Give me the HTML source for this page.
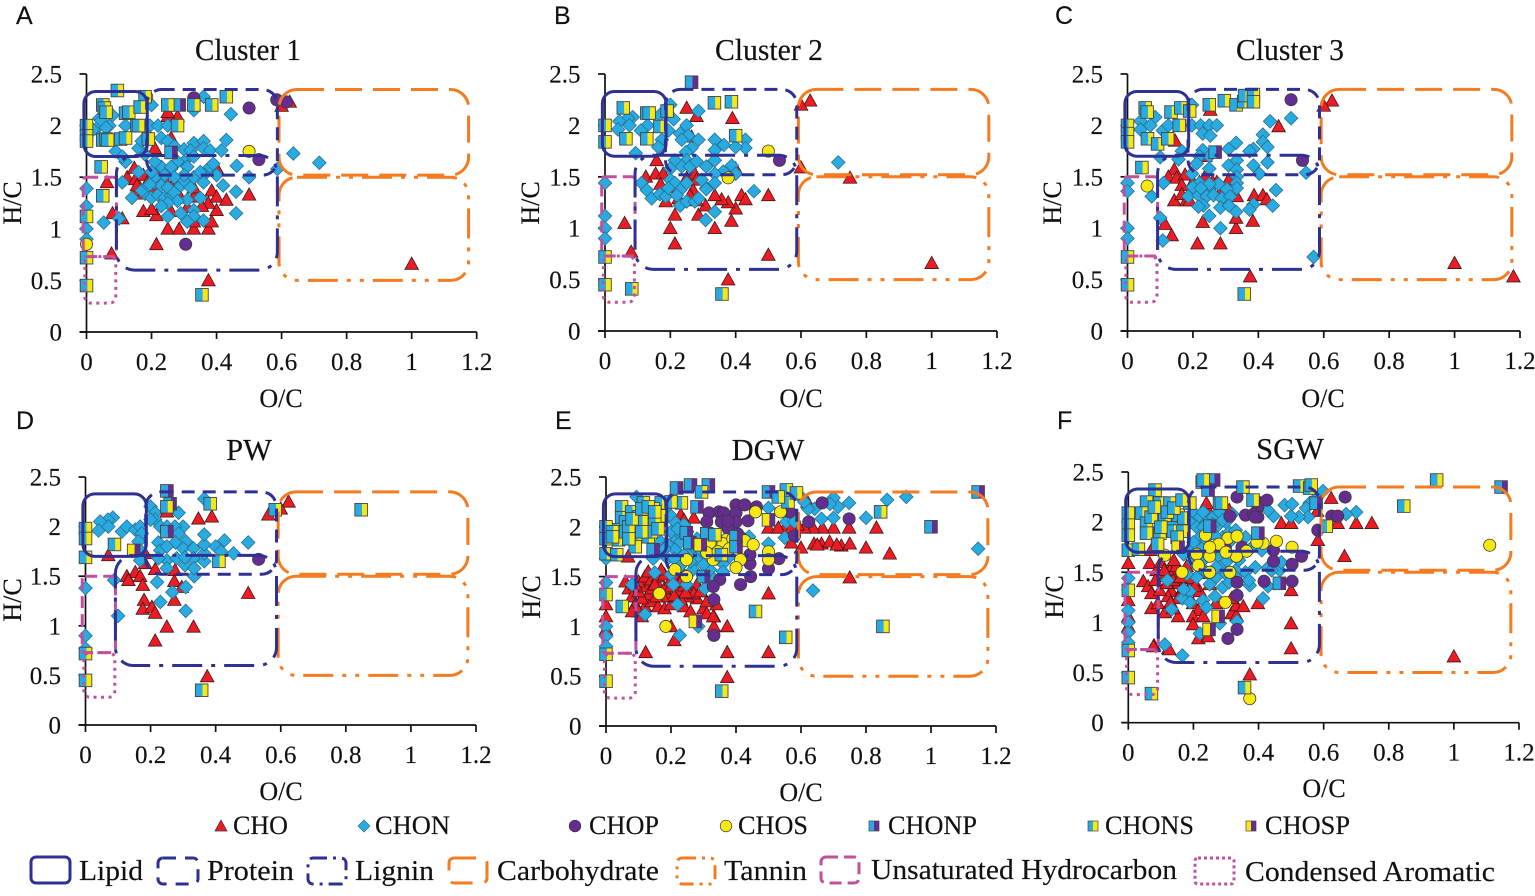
<!DOCTYPE html>
<html lang="en">
<head>
<meta charset="utf-8">
<title>Van Krevelen diagrams</title>
<style>
html,body{margin:0;padding:0;background:#fff;width:1535px;height:896px;overflow:hidden}
svg{display:block;filter:blur(.35px)}
text{font-family:"Liberation Serif",serif;fill:#111;stroke:#111;stroke-width:.15px}
.letter{font-family:"Liberation Sans",sans-serif;font-size:25px}
.title{font-size:30.5px;text-anchor:middle}
.axlab{font-size:26px;text-anchor:middle}
.tick{font-size:25px}
.lg1{font-size:26.5px}
.lg2{font-size:29px}
</style>
</head>
<body>
<svg id="chart" xmlns="http://www.w3.org/2000/svg" width="1535" height="896" viewBox="0 0 1535 896">
  <g>
    <text class="letter" x="16" y="24">A</text>
    <text class="letter" x="554" y="24">B</text>
    <text class="letter" x="1055" y="24">C</text>
    <text class="letter" x="16" y="429">D</text>
    <text class="letter" x="555" y="429">E</text>
    <text class="letter" x="1057" y="429">F</text>
  </g>
  <g>
    <text class="title" x="248" y="60" textLength="106" lengthAdjust="spacingAndGlyphs">Cluster 1</text>
    <text class="title" x="769" y="60" textLength="108" lengthAdjust="spacingAndGlyphs">Cluster 2</text>
    <text class="title" x="1290" y="60" textLength="108" lengthAdjust="spacingAndGlyphs">Cluster 3</text>
    <text class="title" x="249" y="460">PW</text>
    <text class="title" x="768" y="460">DGW</text>
    <text class="title" x="1290" y="459">SGW</text>
  </g>
  <g>
    <text class="axlab" x="281" y="407">O/C</text>
    <text class="axlab" x="801" y="407">O/C</text>
    <text class="axlab" x="1323" y="407">O/C</text>
    <text class="axlab" x="281" y="800">O/C</text>
    <text class="axlab" x="801" y="801">O/C</text>
    <text class="axlab" x="1324" y="797">O/C</text>
    <text class="axlab" transform="translate(21,203) rotate(-90)">H/C</text>
    <text class="axlab" transform="translate(539,203) rotate(-90)">H/C</text>
    <text class="axlab" transform="translate(1061,203) rotate(-90)">H/C</text>
    <text class="axlab" transform="translate(21,600) rotate(-90)">H/C</text>
    <text class="axlab" transform="translate(540,597) rotate(-90)">H/C</text>
    <text class="axlab" transform="translate(1063,597) rotate(-90)">H/C</text>
  </g>
  <g id="panels"></g>
  <g id="legend-compound">
    <g><polygon points="221,820 227,831 215,831" fill="#ED1C24" stroke="#333" stroke-width=".7"/><text class="lg1" x="233" y="834" textLength="55" lengthAdjust="spacingAndGlyphs">CHO</text></g>
    <g><polygon points="364,820 370,826 364,832 358,826" fill="#29ABE2" stroke="#2a6f8f" stroke-width=".7"/><text class="lg1" x="375" y="834" textLength="75" lengthAdjust="spacingAndGlyphs">CHON</text></g>
    <g><circle cx="575" cy="826" r="5.8" fill="#662D91" stroke="#333" stroke-width=".7"/><text class="lg1" x="589" y="834" textLength="70" lengthAdjust="spacingAndGlyphs">CHOP</text></g>
    <g><circle cx="726" cy="826" r="5.8" fill="#F7E812" stroke="#333" stroke-width=".7"/><text class="lg1" x="738" y="834" textLength="70" lengthAdjust="spacingAndGlyphs">CHOS</text></g>
    <g><rect x="869" y="821" width="5" height="10" fill="#29ABE2"/><rect x="874" y="821" width="5" height="10" fill="#662D91"/><rect x="869" y="821" width="10" height="10" fill="none" stroke="#444" stroke-width=".7"/><text class="lg1" x="888" y="834" textLength="89" lengthAdjust="spacingAndGlyphs">CHONP</text></g>
    <g><rect x="1088" y="821" width="5" height="10" fill="#29ABE2"/><rect x="1093" y="821" width="5" height="10" fill="#F7E812"/><rect x="1088" y="821" width="10" height="10" fill="none" stroke="#444" stroke-width=".7"/><text class="lg1" x="1105" y="834" textLength="89" lengthAdjust="spacingAndGlyphs">CHONS</text></g>
    <g><rect x="1246" y="821" width="5" height="10" fill="#F7E812"/><rect x="1251" y="821" width="5" height="10" fill="#662D91"/><rect x="1246" y="821" width="10" height="10" fill="none" stroke="#444" stroke-width=".7"/><text class="lg1" x="1265" y="834" textLength="85" lengthAdjust="spacingAndGlyphs">CHOSP</text></g>
  </g>
  <g id="legend-region" fill="none">
    <g><rect x="31" y="857" width="39" height="26" rx="5" stroke="#2E3192" stroke-width="3"/><text class="lg2" x="79" y="880" textLength="64" lengthAdjust="spacingAndGlyphs">Lipid</text></g>
    <g><rect x="158" y="858" width="40" height="26" rx="5" stroke="#2E3192" stroke-width="3" stroke-dasharray="13 9"/><text class="lg2" x="207" y="880" textLength="87" lengthAdjust="spacingAndGlyphs">Protein</text></g>
    <g><rect x="308" y="858" width="38" height="26" rx="5" stroke="#2E3192" stroke-width="3" stroke-dasharray="14 6 3 6"/><text class="lg2" x="355" y="880" textLength="79" lengthAdjust="spacingAndGlyphs">Lignin</text></g>
    <g><rect x="449" y="858" width="38" height="25" rx="5" stroke="#F47B20" stroke-width="3" stroke-dasharray="22 12"/><text class="lg2" x="497" y="880" textLength="162" lengthAdjust="spacingAndGlyphs">Carbohydrate</text></g>
    <g><rect x="677" y="858" width="38" height="26" rx="5" stroke="#F47B20" stroke-width="3" stroke-dasharray="14 6 3 6 3 6"/><text class="lg2" x="724" y="880" textLength="83" lengthAdjust="spacingAndGlyphs">Tannin</text></g>
    <g><rect x="821" y="857" width="38" height="26" rx="5" stroke="#C0509F" stroke-width="3" stroke-dasharray="12 6"/><text class="lg2" x="871" y="879" textLength="306" lengthAdjust="spacingAndGlyphs">Unsaturated Hydrocarbon</text></g>
    <g><rect x="1195" y="858" width="39" height="26" rx="3" stroke="#C0509F" stroke-width="3" stroke-dasharray="3 3"/><text class="lg2" x="1245" y="881" textLength="250" lengthAdjust="spacingAndGlyphs">Condensed Aromatic</text></g>
  </g>
</svg>
<script>
const xTicks=[0,0.2,0.4,0.6,0.8,1,1.2];
const xTickLabels=["0","0.2","0.4","0.6","0.8","1","1.2"];
const yTicks=[0,0.5,1,1.5,2,2.5];
const yTickLabels=["0","0.5","1","1.5","2","2.5"];

// Panel A (Cluster 1): [O/C, H/C]
const A_CHO=[[1,.66],[.375,.5],[.215,.85],[.25,1],[.285,1],[.33,1],[.375,1],[.33,1.07],[.385,1.07],[.4,1.18],[.375,1.25],[.33,1.31],[.385,1.37],[.4,1.31],[.43,1.28],[.5,1.33],[.31,1.21],[.215,1.13],[.175,1.17],[.2,1.19],[.26,1.17],[.11,1.1],[.08,1.15],[.077,.76],[.063,1.45],[.125,1.5],[.147,1.59],[.15,1.48],[.175,1.52],[.21,1.78],[.25,2.09],[.28,2.09],[.25,2.13],[.26,1.88],[.6,2.19],[.625,2.23],[.4,1.59],[.155,1.37],[.175,1.34],[.155,1.42],[.185,1.44],[.215,1.54],[.245,1.45],[.265,1.43],[.285,1.45],[.33,1.4],[.21,1.4],[.24,1.28],[.29,1.3],[.355,1.22]];
const A_CHON=[[0,1.39],[0,1.22],[0,1],[0,.9],[.053,1.06],[.1,1.1],[.04,2.07],[.03,1.97],[.07,2],[.045,2.05],[.02,1.96],[.12,2],[.08,2.1],[.06,1.98],[.09,1.75],[.12,1.65],[.11,1.7],[.195,2],[.22,2],[.25,2],[.2,2.2],[.33,2.15],[.36,2.28],[.16,1.78],[.18,1.72],[.17,1.85],[.19,1.9],[.23,1.88],[.25,1.85],[.27,1.8],[.3,1.77],[.33,1.83],[.32,1.76],[.3,1.65],[.31,1.6],[.33,1.7],[.28,1.65],[.26,1.58],[.23,1.6],[.21,1.65],[.16,1.55],[.11,1.45],[.14,1.3],[.18,1.34],[.17,1.37],[.2,1.3],[.22,1.33],[.24,1.3],[.26,1.32],[.19,1.42],[.21,1.45],[.23,1.42],[.25,1.4],[.27,1.35],[.29,1.42],[.3,1.47],[.32,1.4],[.33,1.5],[.36,1.45],[.35,1.3],[.31,1.28],[.28,1.27],[.25,1.25],[.23,1.22],[.25,1.12],[.29,1.15],[.33,1.18],[.33,1.12],[.31,1.07],[.36,1.08],[.4,1.52],[.37,1.55],[.42,1.42],[.46,1.36],[.46,1.15],[.38,1.6],[.35,1.55],[.3,1.52],[.27,1.5],[.24,1.52],[.21,1.5],[.2,1.55],[.26,1.6],[.36,1.85],[.36,1.78],[.636,1.73],[.716,1.64],[.587,1.58],[.5,1.5],[.462,1.61],[.444,2.11],[.43,1.86],[.38,1.76],[.415,1.76],[.39,1.63],[.195,1.43]];
const A_CHOP=[[.5,2.17],[.585,2.25],[.615,2.23],[.53,1.67],[.305,.85],[.33,2.27]];
const A_CHOS=[[.5,1.75],[0,.85],[.185,2.28]];
const A_CHONP=[[.26,1.74],[.285,2.2]];
const A_CHONS=[[.095,2.34],[.18,2.28],[.05,2.2],[.055,2.17],[.06,2.13],[.12,2.12],[.13,2.13],[.165,2.18],[.155,2],[.16,2],[0,2],[0,1.9],[0,1.85],[.05,1.86],[.06,1.87],[.065,1.86],[.105,1.87],[.12,1.88],[.19,1.87],[.25,2.2],[.28,2],[.33,2.2],[.385,2.2],[.43,2.28],[.045,1.6],[.05,1.32],[0,1.12],[0,.72],[0,.45],[.355,.36]];
const A_CHOSP=[];

// Panel B (Cluster 2)
const B_CHO=[[.628,2.24],[.6,2.2],[.25,2.17],[.28,2.09],[.39,2.07],[.6,1.59],[.75,1.49],[1,.66],[.377,.5],[.5,.74],[.214,.85],[.2,1],[.06,1.05],[.08,.77],[.336,1],[.387,1.07],[.214,1.13],[.286,1.13],[.308,1.22],[.4,1.19],[.377,1.25],[.357,1.28],[.336,1.32],[.418,1.32],[.43,1.28],[.5,1.32],[.125,1.5],[.155,1.53],[.178,1.53],[.17,1.43],[.186,1.26],[.205,1.4],[.225,1.29],[.25,1.49],[.275,1.53],[.28,1.47],[.27,1.37],[.26,1.32],[.28,1.27],[.4,1.58],[.265,1.89],[.158,1.66]];
const B_CHON=[[.714,1.64],[0,1.44],[0,1.12],[0,1],[0,.9],[.456,1.36],[.336,1.16],[.308,1.08],[.43,1.86],[.43,1.78],[.4,1.79],[.364,1.81],[.336,1.86],[.336,1.76],[.286,2.14],[.388,1.61],[.4,1.53],[.362,1.55],[.336,1.53],[.336,1.44],[.31,1.39],[.2,2.2],[.21,2.06],[.085,2.08],[.07,2.07],[.075,2],[.044,2.04],[.04,1.96],[.13,2],[.11,1.95],[.094,1.73],[.168,2.1],[.25,2],[.174,1.86],[.163,1.79],[.194,1.95],[.23,1.92],[.255,1.9],[.235,1.86],[.286,1.86],[.265,1.78],[.248,1.74],[.25,1.66],[.214,1.66],[.235,1.6],[.2,1.58],[.26,1.6],[.31,1.6],[.336,1.66],[.28,1.65],[.112,1.44],[.128,1.37],[.143,1.29],[.168,1.33],[.186,1.31],[.2,1.47],[.214,1.44],[.23,1.37],[.194,1.39],[.23,1.22],[.25,1.26],[.275,1.26],[.286,1.29],[.31,1.38],[.296,1.47],[.25,1.44],[.22,1.32]];
const B_CHOP=[[.534,1.66]];
const B_CHOS=[[.5,1.75],[.377,1.49]];
const B_CHONP=[[.265,2.42]];
const B_CHONS=[[.056,2.17],[.128,2.12],[.135,2.12],[.19,2.14],[.168,1.99],[.064,1.87],[.128,1.87],[0,2],[0,1.84],[.335,2.22],[.387,2.23],[.4,1.9],[0,.72],[0,.45],[.082,.41],[.358,.36]];
const B_CHOSP=[];

// Panel C (Cluster 3)
const C_CHO=[[.625,2.24],[.6,2.19],[.462,1.99],[.146,1.85],[.143,1.57],[.125,1.5],[.15,1.49],[.176,1.52],[.166,1.42],[.143,1.27],[.18,1.27],[.115,1.04],[.135,.93],[.214,.85],[.284,.85],[.23,1.06],[.332,1],[.383,1.07],[.332,1.1],[.387,1.32],[.414,1.32],[.426,1.28],[.375,.53],[.238,1.51],[.273,1.45],[.309,1.47],[.334,1.31],[.253,2.15],[1,.66],[1.18,.53],[.238,1.7],[.26,1.45],[.22,1.45],[.29,1.39],[.166,1.33],[.19,1.27],[.2,1.45]];
const C_CHON=[[0,1.44],[0,1.36],[0,1],[0,.9],[.074,1.31],[.1,1.1],[.108,.88],[.11,1.44],[.569,.72],[.546,1.54],[.5,2.07],[.436,2.04],[.414,1.91],[.414,1.84],[.428,1.79],[.385,1.77],[.373,1.75],[.428,1.64],[.385,1.61],[.403,1.53],[.332,1.83],[.309,1.77],[.309,1.61],[.334,1.66],[.334,1.57],[.334,1.5],[.334,1.44],[.334,1.39],[.454,1.37],[.444,1.22],[.385,1.23],[.373,1.18],[.332,1.16],[.25,1.12],[.284,1],[.085,2.08],[.04,2.04],[.04,1.96],[.07,2],[.108,1.95],[.125,2],[.197,2.2],[.197,2],[.224,2],[.25,2],[.273,2],[.23,1.92],[.253,1.9],[.1,1.69],[.166,1.75],[.156,1.67],[.23,1.76],[.22,1.7],[.212,1.63],[.197,1.53],[.25,1.7],[.25,1.58],[.2,1.4],[.22,1.44],[.25,1.38],[.278,1.43],[.304,1.38],[.186,1.31],[.217,1.32],[.242,1.31],[.263,1.32],[.288,1.29],[.314,1.31],[.232,1.22],[.217,1.21],[.284,1.2],[.31,1.22],[.25,1.43],[.2,1.4],[.224,1.39]];
const C_CHOP=[[.5,2.25],[.535,1.66]];
const C_CHOS=[[.06,1.41]];
const C_CHONP=[[.268,1.74]];
const C_CHONS=[[.054,2.17],[.06,2.13],[.133,2.13],[.163,2.17],[.19,2.14],[.158,2],[.061,1.87],[.092,1.82],[.123,1.87],[0,2],[0,1.92],[0,1.84],[.25,2.2],[.296,2.24],[.332,2.2],[.355,2.23],[.358,2.29],[.385,2.3],[.385,2.23],[.044,1.59],[0,.72],[0,.45],[.357,.36]];
const C_CHOSP=[];

// Panel D (PW)
const D_CHO=[[.624,2.25],[.6,2.18],[.562,2.12],[.347,2.08],[.388,2.1],[.25,2.15],[.07,1.71],[.183,1.63],[.214,1.57],[.275,1.56],[.153,1.54],[.127,1.5],[.132,1.46],[.168,1.5],[.176,1.41],[.273,1.45],[.296,1.39],[.5,1.33],[.18,1.26],[.176,1.17],[.204,1.19],[.214,1.13],[.273,1.26],[.25,.99],[.332,.99],[.214,.85],[.374,.49],[.183,1.73]];
const D_CHON=[[0,1.38],[0,.9],[0,.77],[.088,1.46],[.1,1.1],[.308,1.15],[.23,1.24],[.267,1.34],[.308,1.39],[.22,1.44],[.334,1.5],[.334,1.58],[.365,1.65],[.365,1.73],[.365,1.82],[.365,1.92],[.365,2.28],[.4,1.8],[.427,1.86],[.416,1.75],[.455,1.73],[.5,1.84],[.286,2.14],[.2,2.2],[.214,2.14],[.214,2.07],[.23,2],[.25,2],[.3,2],[.275,2],[.286,1.93],[.308,1.85],[.276,1.84],[.224,1.84],[.23,1.76],[.25,1.8],[.3,1.78],[.332,1.78],[.332,1.68],[.306,1.61],[.334,1.58],[.25,1.66],[.224,1.68],[.25,1.58],[.28,1.68],[.306,1.69],[.084,2.09],[.069,2.07],[.045,2.05],[.07,2],[.04,1.96],[.112,1.95],[.127,2],[.153,1.97],[.168,2],[.173,1.93],[.163,1.85],[.168,1.76],[.168,1.66],[.2,2.07]];
const D_CHOP=[[.532,1.67]];
const D_CHOS=[];
const D_CHONP=[[.26,2.23],[.25,2.36],[.25,1.95]];
const D_CHONS=[[0,1.98],[0,1.88],[0,1.69],[.089,1.82],[.25,2.2],[.383,2.23],[.41,1.65],[.583,2.17],[.847,2.17],[0,.72],[0,.45],[.357,.35]];
const D_CHOSP=[[.148,1.76]];

// Panel E (DGW)
const E_CHO=[[.75,1.49],[.8,1.79],[.873,1.73],[.832,1.99],[.748,1.99],[.7,1.99],[.666,1.99],[.637,1.99],[.61,1.99],[.55,1.99],[.5,1.99],[.64,1.83],[.663,1.83],[.688,1.85],[.724,1.81],[.75,1.83],[.6,1.79],[.57,1.84],[.5,1.33],[.5,.74],[.373,.74],[.373,1],[.373,.49],[.332,1],[.332,1.1],[.21,.86],[.122,.74],[.2,1],[.068,1.7],[.07,1.38],[.08,1.3],[.09,1.22],[.12,1.2],[.14,1.25],[.16,1.2],[.18,1.18],[.2,1.22],[.24,1.2],[.26,1.15],[.3,1.18],[.31,1.13],[.34,1.22],[.33,1.1],[.28,1.28],[.25,1.3],[.31,1.25],[.23,1.27],[.19,1.3],[.16,1.32],[.13,1.32],[.11,1.28],[.1,1.35],[.12,1.4],[.14,1.38],[.16,1.42],[.18,1.38],[.2,1.4],[.22,1.36],[.24,1.41],[.26,1.38],[.28,1.42],[.1,1.45],[.12,1.5],[.14,1.47],[.16,1.5],[.18,1.52],[.2,1.47],[.22,1.5],[.24,1.52],[.13,1.55],[.17,1.57],[.21,1.58],[.15,1.42],[.23,1.45],[.27,1.33],[.29,1.35],[.21,1.31],[.09,1.42],[.06,1.45],[.1,1.15],[.08,1.15],[.11,1.1],[0,1.22],[0,1.1],[0,.97],[.23,2.12],[.27,2.09],[.24,2.07],[.62,2.25],[.59,2.02],[.53,1.99],[.57,1.99],[.65,1.82],[.71,1.82],[.175,1.3],[.245,1.34],[.155,1.3]];
const E_CHON=[[1.145,1.78],[.637,1.36],[.924,2.3],[.865,2.27],[.8,2.09],[.748,2.24],[.7,2.09],[.663,2.08],[.7,2.29],[.714,2.2],[.689,2.23],[.642,2.18],[.622,2.18],[.6,2.3],[.61,2.25],[.555,2.05],[.58,2.05],[.55,1.89],[.5,2.19],[.5,1.83],[.284,1],[.227,.91],[.12,1.12],[0,1.44],[0,1],[0,.9],[0,.8],[0,1.68],[.094,2.3],[.212,2.05],[.197,2.12],[.168,1.85],[.19,1.82],[.217,1.88],[.227,1.93],[.212,1.77],[.243,1.85],[.19,1.68],[.145,1.68],[.17,1.75],[.28,1.68],[.304,1.62],[.268,1.57],[.227,1.6],[.2,1.52],[.325,1.5],[.248,1.42],[.15,1.54],[.207,1.42],[.304,1.38],[.08,1.42],[.22,1.22],[.36,1.63],[.32,1.57],[.29,1.77],[.187,2.2],[.2,2.27],[.23,1.85],[.25,1.95],[.2,1.95],[.26,1.73],[.28,1.88],[.31,1.7],[.34,1.68],[.36,1.55],[.38,1.7],[.42,1.88],[.44,1.9],[.24,2.02],[.26,1.65],[.3,1.5],[.18,1.78],[.22,1.98],[.24,1.72],[.21,1.68],[.27,1.8],[.3,1.62],[.35,1.78]];
const E_CHOP=[[.317,2.14],[.31,2.05],[.348,2.15],[.362,2.14],[.355,2.05],[.4,2.22],[.427,2.22],[.4,2.14],[.4,2.05],[.437,2.06],[.463,2.2],[.565,2.15],[.665,2.24],[.624,2.05],[.748,2.08],[.58,1.91],[.443,1.63],[.445,1.5],[.414,1.42],[.35,1.47],[.33,1.4],[.332,1.27],[.332,.91],[.532,1.68],[.5,1.58],[.376,1.98],[.443,1.72],[.405,1.93],[.415,1.89],[.375,2.06]];
const E_CHOS=[[.46,2.15],[.537,2.15],[.427,1.86],[.453,1.82],[.37,1.87],[.345,1.85],[.5,1.75],[.5,1.67],[.414,1.67],[.4,1.59],[.33,1.67],[.248,1.67],[.212,1.57],[.248,1.5],[.164,1.33],[.184,1],[.36,1.83],[.32,1.84],[.31,1.74],[.39,1.88],[.345,1.75],[.38,1.78]];
const E_CHONP=[[.217,2.39],[.26,2.42],[.315,2.42],[.5,2.35],[.28,2.2],[.247,1.94],[.258,1.84],[.4,1.9],[.4,1.8],[1,2],[1.145,2.35],[.145,1.77],[.31,1.93],[.3,1.5]];
const E_CHONS=[[.852,1],[.553,.89],[.46,1.15],[.356,.35],[.845,2.15],[.294,2.35],[0,.45],[0,.72],[.05,1.2],[0,1.32],[.048,2.2],[.048,2.09],[.079,2.15],[.115,2.24],[.125,2.12],[.094,2],[.13,2],[.094,1.9],[.13,1.9],[.166,2.11],[.033,1.97],[.038,1.87],[0,2],[0,1.88],[.09,1.8],[0,1.73],[.033,1.72],[.17,2.24],[.232,2.24],[.2,2.25],[.335,1.92],[.355,1.72],[.56,2.25],[.555,2.37],[.586,2.34],[.53,2.3],[.06,2.05],[.1,2.1],[.145,2.18],[.15,2.05],[.02,1.95],[.06,1.95],[.07,2],[.11,2.05],[.08,2.08],[.14,1.95],[.11,1.95],[.11,2.18],[.13,2.2],[.15,2.15],[.02,1.9],[.16,1.98],[.07,1.88]];
const E_CHOSP=[[.5,2.07],[.275,1.05],[.29,1.82]];

// Panel F (SGW)
const F_CHO=[[1,.66],[.373,.48],[.5,.74],[.5,.99],[.5,1.32],[.398,1.19],[.664,1.66],[.623,2.24],[.7,1.99],[.748,1.99],[.643,1.99],[.582,1.82],[.47,1.99],[.5,1.99],[.123,.74],[.079,.77],[0,1.59],[.066,1.59],[.07,1.72],[.046,1.41],[.061,1.36],[.071,1.29],[.087,1.52],[.112,1.46],[.128,1.52],[.148,1.56],[.153,1.39],[.133,1.31],[.164,1.32],[.122,1.26],[.071,1.14],[.112,1.1],[.153,1.06],[.091,1.19],[.138,1.14],[.199,1.19],[.215,1.12],[.199,1.06],[.23,1.06],[.199,.98],[.269,1.19],[.215,.84],[.245,.86],[.317,1.09],[.332,1.07],[.332,1.17],[.353,1.16],[.077,.76],[.126,.73],[0,1.22],[0,1.06],[0,.96],[.22,1.31],[.25,2.09],[.24,2.19],[.31,2.12],[.286,2.09],[.317,1.24],[.2,1.42],[.179,1.56],[.21,1.63],[.097,1.32],[.118,1.39],[.158,1.49],[.184,1.44],[.204,1.36],[.138,1.42],[.083,1.42],[.23,1.49],[.25,1.38],[.153,1.24],[.176,1.26],[.58,2.11],[.14,1.62],[.1,1.6],[.16,1.45],[.11,1.52],[.13,1.2]];
const F_CHON=[[.7,2.1],[.669,2.08],[.598,2.31],[.577,2.24],[.557,2.19],[.546,2.14],[.552,2.05],[.524,2.05],[.5,2.06],[.48,2.17],[.503,2.18],[.446,2.06],[.429,2.12],[.414,1.24],[.465,1.52],[.373,1.37],[.429,1.36],[.281,.99],[.22,.89],[.166,.67],[.112,.78],[.189,1.31],[.166,1.24],[.133,1.13],[.23,1.22],[.266,1.26],[.334,1.01],[0,1.44],[0,1.33],[0,1.12],[0,1],[0,.9],[0,.8],[.2,2.1],[.22,2.05],[.19,2],[.21,1.95],[.24,2],[.26,2.05],[.28,2.1],[.3,2],[.22,1.85],[.2,1.8],[.25,1.9],[.27,1.95],[.29,1.85],[.31,1.9],[.23,1.75],[.27,1.72],[.33,1.92],[.36,1.85],[.38,1.75],[.41,1.72],[.2,1.6],[.23,1.62],[.28,1.65],[.3,1.6],[.34,1.62],[.36,1.5],[.33,1.52],[.3,1.48],[.27,1.45],[.24,1.5],[.21,1.45],[.18,1.48],[.25,1.38],[.29,1.35],[.31,1.4],[.39,1.55],[.43,1.55],[.44,1.52],[.28,1.55],[.14,2.1],[.11,1.95],[.13,2],[.1,1.7],[.19,1.7],[.16,1.72],[.17,1.68],[.47,1.6],[.37,1.42],[.19,1.2],[.24,1.15],[.17,1.33],[.12,1.42],[.23,2.1],[.26,1.98],[.29,2.02],[.32,2.08],[.23,1.95],[.27,1.85],[.24,1.82],[.31,1.8],[.27,1.55],[.33,1.45],[.22,1.55]];
const F_CHOP=[[.334,2.25],[.398,2.2],[.398,2.15],[.426,2.22],[.36,2.07],[.398,2.05],[.312,2.06],[.625,2.06],[.643,2.06],[.666,2.25],[.582,1.92],[.532,1.66],[.503,1.58],[.503,1.41],[.417,1.41],[.446,1.72],[.446,1.61],[.298,1.74],[.349,1.75],[.334,1.4],[.334,1.27],[.334,.93],[.306,.84],[.385,2.08],[.39,2.05]];
const F_CHOS=[[1.11,1.77],[.373,.24],[.237,1.87],[.263,1.77],[.306,1.84],[.334,1.86],[.414,1.79],[.395,1.8],[.455,1.81],[.503,1.75],[.21,1.68],[.215,1.57],[.112,1.67],[.165,1.5],[.25,1.66],[.25,1.5],[.312,1.5],[.298,1.2],[.363,1.71],[.332,1.66],[.278,1.78],[.3,1.7],[.25,1.75]];
const F_CHONP=[[.227,2.4],[.262,2.42],[.245,2.32],[.398,1.89],[.25,1.96],[.464,1.39],[1.145,2.35],[.577,2.19],[.28,2.19]];
const F_CHONS=[[.947,2.42],[.846,2.16],[.357,.35],[.071,.29],[0,.45],[0,.72],[0,1.32],[0,2.09],[0,1.97],[0,1.87],[0,1.72],[.031,1.73],[.082,2.32],[.056,2.2],[.097,2.19],[.128,2.19],[.041,2.09],[.056,1.99],[.112,2.07],[.153,2.07],[.056,1.89],[.097,1.89],[.138,1.91],[.168,1.91],[.189,2.19],[.352,2.35],[.526,2.36],[.557,2.34],[.562,2.37],[.608,1.96],[.286,2.19],[.23,2.42],[.383,2.22],[.17,2.04],[.07,2.05],[.08,2.15],[.12,2.1],[.14,2.14],[.1,1.95],[.15,1.85],[.09,1.78],[.165,2.22]];
const F_CHOSP=[[.153,1.75],[.276,1.06],[.248,.93]];

// Van Krevelen compound-class regions: [O/C min, O/C max, H/C min, H/C max]
const regionLipid=[-.008,.187,1.7,2.33];
const regionProtein=[.185,.587,1.52,2.35];
const regionLignin=[.092,.587,.6,1.71];
const regionCarbohydrate=[.592,1.175,1.52,2.35];
const regionTannin=[.592,1.175,.5,1.5];
const regionUnsaturated=[-.01,.092,.73,1.5];
const regionCondensed=[-.005,.09,.28,.73];

const regionDefs=[
  {name:'condensed-aromatic-region',r:regionCondensed,c:'#C0509F',w:3,d:'3 4.5',rx:6},
  {name:'tannin-region',r:regionTannin,c:'#F47B20',w:3,d:'30 9 4 9 4 9',rx:18},
  {name:'carbohydrate-region',r:regionCarbohydrate,c:'#F47B20',w:3,d:'27 11',rx:18},
  {name:'unsaturated-hydrocarbon-region',r:regionUnsaturated,c:'#C0509F',w:3,d:'12 6',rx:3},
  {name:'lignin-region',r:regionLignin,c:'#2E3192',w:3,d:'30 9 4 9',rx:18},
  {name:'protein-region',r:regionProtein,c:'#2E3192',w:3,d:'13 8',rx:15},
  {name:'lipid-region',r:regionLipid,c:'#2E3192',w:3,d:'',rx:12}
];

const panels=[
  {id:'a',x0:86.5,x1:476.7,y0:332,y1:74,cho:A_CHO,chon:A_CHON,chop:A_CHOP,chos:A_CHOS,chonp:A_CHONP,chons:A_CHONS,chosp:A_CHOSP},
  {id:'b',x0:605,x1:997,y0:331,y1:74,cho:B_CHO,chon:B_CHON,chop:B_CHOP,chos:B_CHOS,chonp:B_CHONP,chons:B_CHONS,chosp:B_CHOSP},
  {id:'c',x0:1127.5,x1:1520,y0:331,y1:74,cho:C_CHO,chon:C_CHON,chop:C_CHOP,chos:C_CHOS,chonp:C_CHONP,chons:C_CHONS,chosp:C_CHOSP},
  {id:'d',x0:85.5,x1:476,y0:725,y1:477,cho:D_CHO,chon:D_CHON,chop:D_CHOP,chos:D_CHOS,chonp:D_CHONP,chons:D_CHONS,chosp:D_CHOSP},
  {id:'e',x0:606,x1:996,y0:726,y1:477,cho:E_CHO,chon:E_CHON,chop:E_CHOP,chos:E_CHOS,chonp:E_CHONP,chons:E_CHONS,chosp:E_CHOSP},
  {id:'f',x0:1128.3,x1:1519,y0:722.7,y1:472,cho:F_CHO,chon:F_CHON,chop:F_CHOP,chos:F_CHOS,chonp:F_CHONP,chons:F_CHONS,chosp:F_CHOSP}
];

const NS='http://www.w3.org/2000/svg';
const RED='#ED1C24',BLUE='#29ABE2',PURPLE='#662D91',YELLOW='#F7E812';

function el(tag,attrs,parent){
  const e=document.createElementNS(NS,tag);
  for(const k in attrs)e.setAttribute(k,attrs[k]);
  if(parent)parent.appendChild(e);
  return e;
}
function drawTriangle(g,cx,cy){
  const p=el('polygon',{points:(cx)+','+(cy-6.8)+' '+(cx+6.8)+','+(cy+5.4)+' '+(cx-6.8)+','+(cy+5.4),fill:RED,stroke:'#3a1a1a','stroke-width':.8},g);
  
  
}
function drawDiamond(g,cx,cy){
  const p=el('polygon',{points:cx+','+(cy-6.8)+' '+(cx+6.8)+','+cy+' '+cx+','+(cy+6.8)+' '+(cx-6.8)+','+cy,fill:BLUE,stroke:'#2a7090','stroke-width':.8},g);
  
  
}
function drawCircle(g,cx,cy,color,name){
  const p=el('circle',{cx:cx,cy:cy,r:6.1,fill:color,stroke:'#3a3a3a','stroke-width':.8},g);
  
  
}
function drawSquare(g,cx,cy,left,right,name){
  const s=el('g',{},g);
  
  
  el('rect',{x:cx-6.3,y:cy-6.3,width:7.2,height:12.6,fill:left},s);
  el('rect',{x:cx+.9,y:cy-6.3,width:5.4,height:12.6,fill:right},s);
  el('rect',{x:cx-6.3,y:cy-6.3,width:12.6,height:12.6,fill:'none',stroke:'#444','stroke-width':.9},s);
}

function drawPanel(p,root){
  const sx=v=>p.x0+(v/1.2)*(p.x1-p.x0);
  const sy=v=>p.y0-(v/2.5)*(p.y0-p.y1);
  const g=el('g',{},root);
  
  

  const axes=el('g',{stroke:'#111','stroke-width':1.7,fill:'none'},g);
  
  
  el('line',{x1:p.x0,y1:p.y1,x2:p.x0,y2:p.y0},axes);
  el('line',{x1:p.x0-7,y1:p.y0,x2:p.x1,y2:p.y0},axes);
  xTicks.forEach((t,i)=>{
    el('line',{x1:sx(t),y1:p.y0,x2:sx(t),y2:p.y0+7},axes);
    const lab=el('text',{class:'tick',x:sx(t),y:p.y0+38,'text-anchor':'middle'},g);
    lab.textContent=xTickLabels[i];
    
    
  });
  yTicks.forEach((t,i)=>{
    el('line',{x1:p.x0-7,y1:sy(t),x2:p.x0,y2:sy(t)},axes);
    const lab=el('text',{class:'tick',x:p.x0-24.5,y:sy(t)+8.5,'text-anchor':'end'},g);
    lab.textContent=yTickLabels[i];
    
    
  });

  const m=el('g',{},g);
  
  
  p.cho.forEach(d=>drawTriangle(m,sx(d[0]),sy(d[1])));
  p.chon.forEach(d=>drawDiamond(m,sx(d[0]),sy(d[1])));
  p.chop.forEach(d=>drawCircle(m,sx(d[0]),sy(d[1]),PURPLE,'chop-point'));
  p.chos.forEach(d=>drawCircle(m,sx(d[0]),sy(d[1]),YELLOW,'chos-point'));
  p.chonp.forEach(d=>drawSquare(m,sx(d[0]),sy(d[1]),BLUE,PURPLE,'chonp-point'));
  p.chons.forEach(d=>drawSquare(m,sx(d[0]),sy(d[1]),BLUE,YELLOW,'chons-point'));
  p.chosp.forEach(d=>drawSquare(m,sx(d[0]),sy(d[1]),YELLOW,PURPLE,'chosp-point'));

  const rg=el('g',{fill:'none'},g);
  
  
  regionDefs.forEach(def=>{
    const r=el('rect',{x:sx(def.r[0]),y:sy(def.r[3]),width:sx(def.r[1])-sx(def.r[0]),height:sy(def.r[2])-sy(def.r[3]),rx:def.rx,stroke:def.c,'stroke-width':def.w,'stroke-dasharray':def.d},rg);
    
    
  });
}
const root=document.getElementById('panels');
panels.forEach(p=>drawPanel(p,root));
</script>
</body>
</html>
